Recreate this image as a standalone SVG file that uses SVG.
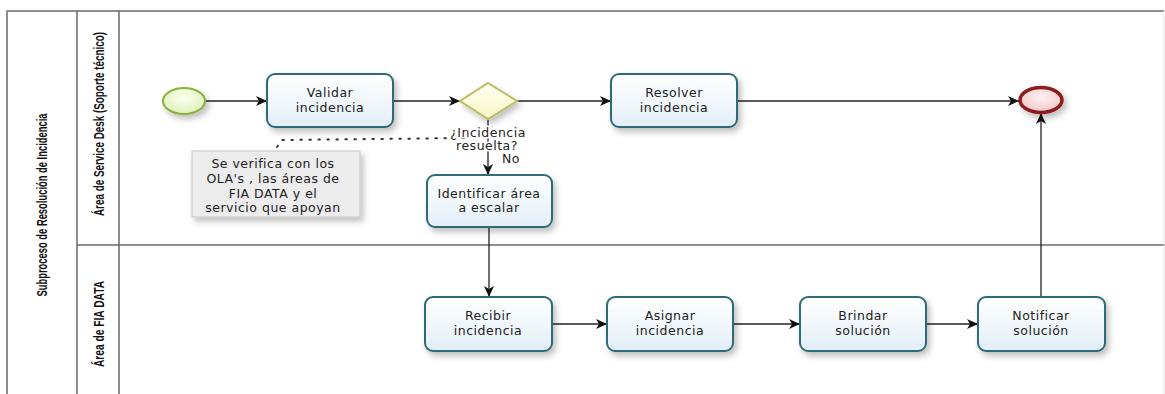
<svg xmlns="http://www.w3.org/2000/svg" width="1165" height="394" viewBox="0 0 1165 394">
  <style>
    .frame { stroke: #6a6a6a; stroke-width: 1.5; fill: none; }
    .lane-title { font-family: "Liberation Sans", Arial, sans-serif; font-weight: bold; font-size: 15px; fill: #111; }
    .task rect { fill: url(#taskFill); stroke: #2f6b78; stroke-width: 2; }
    .label { font-family: "DejaVu Sans", "Open Sans", sans-serif; font-size: 12.5px; fill: #222; text-anchor: middle; letter-spacing: 0.5px; }
    .flow { stroke: #222; stroke-width: 1.3; fill: none; marker-end: url(#arrow); }
    .assoc { stroke: #333; stroke-width: 2; fill: none; stroke-dasharray: 1.5 7.5; stroke-linecap: round; }
    .halo { paint-order: stroke; stroke: #fff; stroke-width: 3px; stroke-linejoin: round; }
  </style>
  <defs>
    <linearGradient id="taskFill" x1="0" y1="0" x2="0" y2="1">
      <stop offset="0" stop-color="#ffffff"/>
      <stop offset="1" stop-color="#e3eef7"/>
    </linearGradient>
    <radialGradient id="startFill" cx="0.5" cy="0.4" r="0.6">
      <stop offset="0" stop-color="#fbfff0"/>
      <stop offset="1" stop-color="#dff0b8"/>
    </radialGradient>
    <radialGradient id="endFill" cx="0.5" cy="0.4" r="0.6">
      <stop offset="0" stop-color="#fdf0f0"/>
      <stop offset="1" stop-color="#f2c8c8"/>
    </radialGradient>
    <linearGradient id="gwFill" x1="0" y1="0" x2="0" y2="1">
      <stop offset="0" stop-color="#fffff0"/>
      <stop offset="1" stop-color="#f8f6c8"/>
    </linearGradient>
    <filter id="shadow" x="-20%" y="-20%" width="150%" height="160%">
      <feDropShadow dx="3" dy="4" stdDeviation="3" flood-color="#000" flood-opacity="0.25"/>
    </filter>
    <marker id="arrow" markerUnits="userSpaceOnUse" markerWidth="12" markerHeight="10" refX="11" refY="5" orient="auto">
      <path d="M0,0 L11,5 L0,10 L3,5 z" fill="#111"/>
    </marker>
  </defs>

  <rect width="1165" height="394" fill="#fff"/>

  <!-- pool and lanes -->
  <g id="pool">
    <path class="frame" d="M7,394 V11 H1164"/>
    <path class="frame" d="M77,11 V394 M119,11 V394 M77,245 H1165"/>
    <line x1="1164" y1="11" x2="1164" y2="394" stroke="#e4e4e4" stroke-width="1"/>
    <text class="lane-title" transform="translate(47,205) rotate(-90)" text-anchor="middle" textLength="183" lengthAdjust="spacingAndGlyphs">Subproceso de Resolución de Incidencia</text>
    <text class="lane-title" transform="translate(104,124) rotate(-90)" text-anchor="middle" textLength="184" lengthAdjust="spacingAndGlyphs">Área de Service Desk (Soporte técnico)</text>
    <text class="lane-title" transform="translate(104,324) rotate(-90)" text-anchor="middle" textLength="86" lengthAdjust="spacingAndGlyphs">Área de FIA DATA</text>
  </g>

  <!-- sequence flows and association -->
  <g id="connectors">
    <path class="assoc" d="M277,147 L282,140 L470,138"/>
    <path class="flow" d="M206,101 H267"/>
    <path class="flow" d="M393,101 H460"/>
    <path class="flow" d="M517,101 H611"/>
    <path class="flow" d="M737,101 H1019"/>
    <path class="flow" d="M488,119 V175"/>
    <path class="flow" d="M489,227 V297"/>
    <path class="flow" d="M552,324 H607"/>
    <path class="flow" d="M733,324 H800"/>
    <path class="flow" d="M926,324 H978"/>
    <path class="flow" d="M1041,297 V113"/>
  </g>

  <g id="start">
    <ellipse cx="184" cy="101" rx="21" ry="13" fill="url(#startFill)" stroke="#8cae3c" stroke-width="2" filter="url(#shadow)"/>
  </g>

  <g id="validar" class="task">
    <rect x="267" y="74" width="126" height="53" rx="8" filter="url(#shadow)"/>
    <text class="label" x="330" y="97">Validar</text>
    <text class="label" x="330" y="112">incidencia</text>
  </g>

  <g id="gateway">
    <path d="M488,83 L517,101 L488,119 L460,101 z" fill="url(#gwFill)" stroke="#bcbc66" stroke-width="2" filter="url(#shadow)"/>
    <text class="label halo" x="488" y="137">¿Incidencia</text>
    <text class="label halo" x="487" y="150">resuelta?</text>
    <text class="label halo" x="511" y="163">No</text>
  </g>

  <g id="resolver" class="task">
    <rect x="611" y="74" width="126" height="53" rx="8" filter="url(#shadow)"/>
    <text class="label" x="674" y="97">Resolver</text>
    <text class="label" x="674" y="112">incidencia</text>
  </g>

  <g id="end">
    <ellipse cx="1041" cy="100" rx="21" ry="12.5" fill="url(#endFill)" stroke="#8e1b1b" stroke-width="3.5" filter="url(#shadow)"/>
  </g>

  <g id="note">
    <rect x="192" y="151" width="168" height="66" fill="#ececec" stroke="#c4c4c4" stroke-width="1" filter="url(#shadow)"/>
    <text class="label" x="273" y="168">Se verifica con los</text>
    <text class="label" x="273" y="183">OLA's , las áreas de</text>
    <text class="label" x="273" y="198">FIA DATA y el</text>
    <text class="label" x="273" y="212">servicio que apoyan</text>
  </g>

  <g id="identificar" class="task">
    <rect x="427" y="175" width="125" height="52" rx="8" filter="url(#shadow)"/>
    <text class="label" x="489" y="198">Identificar área</text>
    <text class="label" x="489" y="212">a escalar</text>
  </g>

  <g id="recibir" class="task">
    <rect x="425" y="297" width="127" height="54" rx="8" filter="url(#shadow)"/>
    <text class="label" x="488" y="320">Recibir</text>
    <text class="label" x="488" y="335">incidencia</text>
  </g>

  <g id="asignar" class="task">
    <rect x="607" y="297" width="126" height="54" rx="8" filter="url(#shadow)"/>
    <text class="label" x="670" y="320">Asignar</text>
    <text class="label" x="670" y="335">incidencia</text>
  </g>

  <g id="brindar" class="task">
    <rect x="800" y="297" width="126" height="54" rx="8" filter="url(#shadow)"/>
    <text class="label" x="863" y="320">Brindar</text>
    <text class="label" x="863" y="335">solución</text>
  </g>

  <g id="notificar" class="task">
    <rect x="978" y="297" width="127" height="54" rx="8" filter="url(#shadow)"/>
    <text class="label" x="1041" y="320">Notificar</text>
    <text class="label" x="1041" y="335">solución</text>
  </g>
</svg>
